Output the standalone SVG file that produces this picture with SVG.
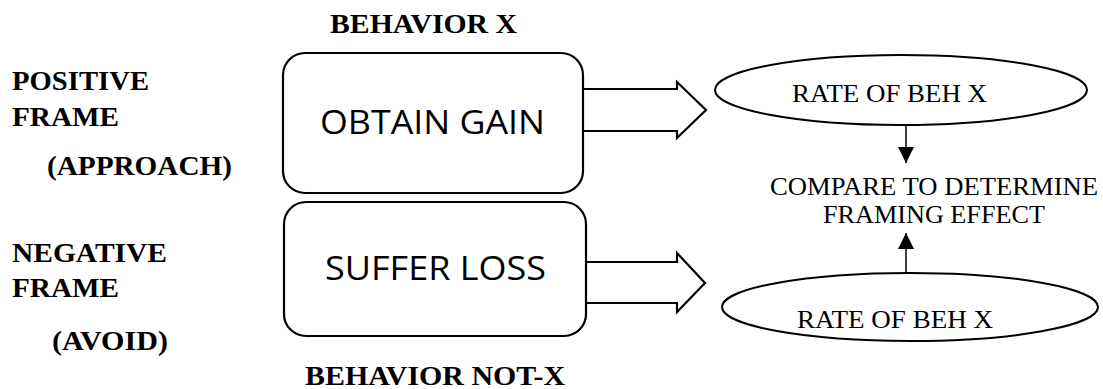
<svg xmlns="http://www.w3.org/2000/svg" width="1103" height="389" viewBox="0 0 1103 389">
<style>
.lbl{font-family:"Liberation Serif","Times New Roman",serif;font-weight:bold;font-size:27px;fill:#000}
.reg{font-family:"Liberation Serif","Times New Roman",serif;font-size:26px;fill:#000}
.box{fill:#fff;stroke:#000;stroke-width:2.2}
.btxt{font-family:"Open Sans","Noto Sans",sans-serif;font-size:32px;fill:#000}
.blk{fill:#fff;stroke:#000;stroke-width:2.2;stroke-linejoin:miter}
.ell{fill:#fff;stroke:#000;stroke-width:2}
.thin{stroke:#000;stroke-width:1.5;fill:none}
</style>
<defs>
<marker id="ah" viewBox="0 0 10 10" refX="10" refY="5" markerWidth="10" markerHeight="10" markerUnits="userSpaceOnUse" orient="auto">
<path d="M0,0 L10,5 L0,10 Z" fill="#000"/>
</marker>
<marker id="ah2" viewBox="0 0 16 16" refX="16" refY="8" markerWidth="16" markerHeight="16" markerUnits="userSpaceOnUse" orient="auto">
<path d="M0,0 L16,8 L0,16 Z" fill="#000"/>
</marker>
</defs>
<g id="labels">
<text class="lbl" x="330" y="33" textLength="187" lengthAdjust="spacingAndGlyphs">BEHAVIOR X</text>
<text class="lbl" x="12" y="90" textLength="137" lengthAdjust="spacingAndGlyphs">POSITIVE</text>
<text class="lbl" x="12" y="126" textLength="107" lengthAdjust="spacingAndGlyphs">FRAME</text>
<text class="lbl" x="47" y="175" textLength="185" lengthAdjust="spacingAndGlyphs">(APPROACH)</text>
<text class="lbl" x="12" y="262" textLength="155" lengthAdjust="spacingAndGlyphs">NEGATIVE</text>
<text class="lbl" x="12" y="297" textLength="107" lengthAdjust="spacingAndGlyphs">FRAME</text>
<text class="lbl" x="52" y="350" textLength="116" lengthAdjust="spacingAndGlyphs">(AVOID)</text>
<text class="lbl" x="305" y="385" textLength="260" lengthAdjust="spacingAndGlyphs">BEHAVIOR NOT-X</text>
</g>
<g id="connectors">
<path class="blk" d="M583,89 H677 V82 L706,110 L677,138 V131 H583"/>
<path class="blk" d="M586,262 H677 V253 L705,283 L677,312 V303 H586"/>
<line class="thin" x1="906" y1="125" x2="906" y2="163" marker-end="url(#ah2)"/>
<line class="thin" x1="906" y1="273" x2="906" y2="233" marker-end="url(#ah2)"/>
</g>
<g id="node-obtain-gain">
<rect class="box" x="283" y="53" width="300" height="140" rx="22" ry="22"/>
<text class="btxt" x="320" y="134" textLength="225" lengthAdjust="spacingAndGlyphs">OBTAIN GAIN</text>
</g>
<g id="node-suffer-loss">
<rect class="box" x="284" y="202" width="302" height="134" rx="22" ry="22"/>
<text class="btxt" x="325" y="280" textLength="221" lengthAdjust="spacingAndGlyphs">SUFFER LOSS</text>
</g>
<g id="node-rate-top">
<ellipse class="ell" cx="901" cy="90" rx="186" ry="35"/>
<text class="reg" x="792" y="102" textLength="195" lengthAdjust="spacingAndGlyphs">RATE OF BEH X</text>
</g>
<g id="node-compare">
<text class="reg" x="770" y="195" textLength="328" lengthAdjust="spacingAndGlyphs">COMPARE TO DETERMINE</text>
<text class="reg" x="823" y="223" textLength="222" lengthAdjust="spacingAndGlyphs">FRAMING EFFECT</text>
</g>
<g id="node-rate-bottom">
<ellipse class="ell" cx="910" cy="307" rx="188" ry="34"/>
<text class="reg" x="797" y="328" textLength="196" lengthAdjust="spacingAndGlyphs">RATE OF BEH X</text>
</g>
</svg>
